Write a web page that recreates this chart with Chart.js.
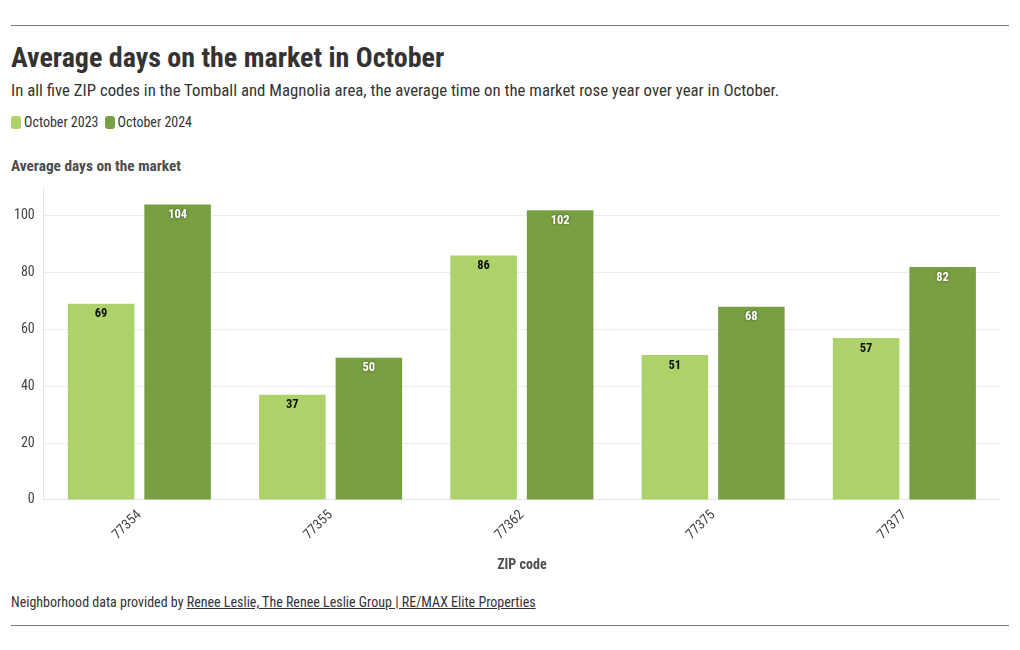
<!DOCTYPE html>
<html>
<head>
<meta charset="utf-8">
<script src="https://cdn.jsdelivr.net/npm/chart.js@4"></script>
<style>
body{margin:0;background:#fff;font-family:"Roboto Condensed","Liberation Sans Narrow",Roboto,sans-serif;color:#333;}
#wrap{position:relative;width:1020px;height:650px;}
.rule{position:absolute;left:11px;width:998px;border-top:1px solid #777;}
h1{position:absolute;left:11px;top:41px;margin:0;font-size:28px;font-weight:700;color:#333;}
.sub{position:absolute;left:11px;top:80px;font-size:16.8px;color:#333;}
.leg{position:absolute;left:11px;top:114px;font-size:14px;color:#333;display:flex;gap:6px;}
.leg span{display:flex;align-items:center;}
.leg i{display:inline-block;width:10px;height:13px;border-radius:3px;margin-right:3px;}
.ytitle{position:absolute;left:11px;top:157px;font-size:15.3px;font-weight:700;color:#4d4d4d;}
.foot{position:absolute;left:11px;top:594px;font-size:14px;color:#333;}
.foot u{color:#333;}
#box{position:absolute;left:0;top:170px;width:1020px;height:408px;}
</style>
</head>
<body>
<div id="wrap">
<div class="rule" style="top:25px"></div>
<h1>Average days on the market in October</h1>
<div class="sub">In all five ZIP codes in the Tomball and Magnolia area, the average time on the market rose year over year in October.</div>
<div class="leg" id="leg"></div>
<div class="ytitle">Average days on the market</div>
<div id="box"><canvas id="chart"></canvas></div>
<div class="foot">Neighborhood data provided by <u>Renee Leslie, The Renee Leslie Group | RE/MAX Elite Properties</u></div>
<div class="rule" style="top:625px"></div>
</div>
<script>
const zipCodes = ["77354","77355","77362","77375","77377"];
const oct2023 = [69,37,86,51,57];
const oct2024 = [104,50,102,68,82];
const seriesNames = ["October 2023","October 2024"];
const yTicks = [0,20,40,60,80,100];

const colors = ["#add26a","#78a042"];
const labelColors = ["#111","#fff"];

const FONT = '"Roboto Condensed","Liberation Sans Narrow",Roboto,sans-serif';

/* legende html */
document.getElementById("leg").innerHTML = seriesNames.map((n,i)=>
  '<span><i style="background:'+colors[i]+'"></i>'+n+'</span>').join("");

/* etiquettes dans les barres */
const barLabels = {
  id:"barLabels",
  afterDatasetsDraw(chart){
    const ctx = chart.ctx;
    chart.data.datasets.forEach((ds,di)=>{
      chart.getDatasetMeta(di).data.forEach((bar,i)=>{
        ctx.save();
        ctx.font = "bold 12.5px "+FONT;
        ctx.textAlign = "center";
        ctx.textBaseline = "middle";
        if(di===1){ ctx.shadowColor="rgba(0,0,0,0.45)"; ctx.shadowBlur=3; }
        ctx.fillStyle = labelColors[di];
        ctx.fillText(ds.data[i], bar.x, bar.y+10.5);
        ctx.restore();
      });
    });
  }
};

new Chart(document.getElementById("chart"),{
  type:"bar",
  data:{
    labels:zipCodes,
    datasets:[
      {label:seriesNames[0],data:oct2023,backgroundColor:colors[0]},
      {label:seriesNames[1],data:oct2024,backgroundColor:colors[1]}
    ]
  },
  options:{
    responsive:true,
    maintainAspectRatio:false,
    animation:false,
    layout:{padding:{top:7,left:5,right:20,bottom:0}},
    datasets:{bar:{categoryPercentage:0.8,barPercentage:0.87}},
    plugins:{legend:{display:false},tooltip:{enabled:false}},
    scales:{
      x:{
        grid:{display:false,drawTicks:true,tickLength:5},
        border:{color:"#e6e6e6"},
        ticks:{font:{family:FONT,size:14},color:"#444",maxRotation:45,minRotation:45,padding:2},
        title:{display:true,text:"ZIP code",font:{family:FONT,size:14,weight:"bold"},color:"#4d4d4d",padding:{top:12}}
      },
      y:{
        min:0,max:110,
        afterBuildTicks(axis){ axis.ticks = yTicks.map(v=>({value:v})); },
        grid:{color:"#ececec",drawTicks:false},
        border:{color:"#e6e6e6"},
        ticks:{font:{family:FONT,size:14},color:"#444",padding:9}
      }
    }
  },
  plugins:[barLabels]
});
</script>
</body>
</html>
